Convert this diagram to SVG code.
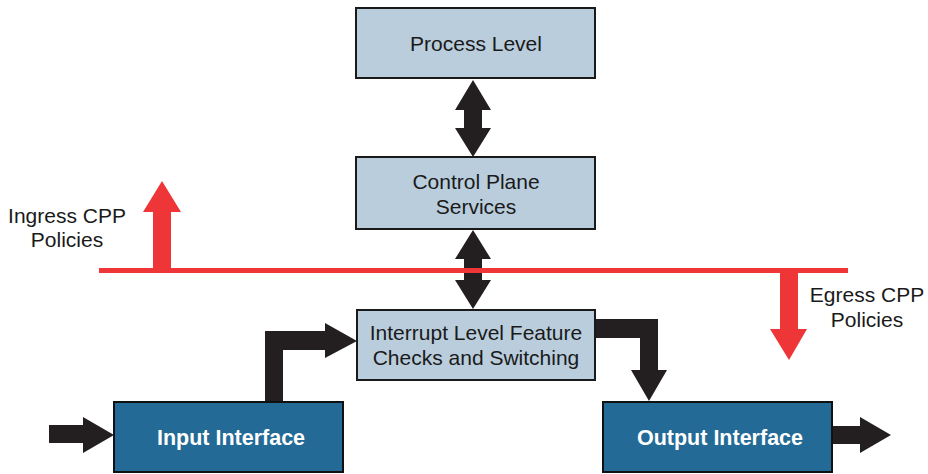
<svg xmlns="http://www.w3.org/2000/svg" width="928" height="474" viewBox="0 0 928 474">
  <style>
    .lbl { font-family: "Liberation Sans", Arial, Helvetica, sans-serif; font-size: 21px; fill: #1a1a1a; text-anchor: middle; }
    .box-light { fill: #b9cddc; stroke: #1a1a1a; stroke-width: 2; }
    .box-dark { fill: #236b96; stroke: #111111; stroke-width: 2; }
    .lbl-dark { font-family: "Liberation Sans", Arial, Helvetica, sans-serif; font-size: 21.5px; font-weight: bold; fill: #ffffff; text-anchor: middle; }
    .flow { fill: #231f20; }
    .cpp { fill: #ee3538; }
  </style>

  <rect width="928" height="474" fill="#ffffff"/>

  <!-- Black flow arrows between the processing stages -->
  <g id="connectors">
    <!-- Process Level <-> Control Plane Services -->
    <polygon class="flow" points="473,80 491,110 482,110 482,128 491,128 473,157 455,128 464,128 464,110 455,110"/>
    <!-- Control Plane Services <-> Interrupt Level -->
    <polygon class="flow" points="473,230 491,259 482,259 482,280 491,280 473,309 455,280 464,280 464,259 455,259"/>
    <!-- Incoming traffic into Input Interface -->
    <polygon class="flow" points="49,425 83,425 83,417 114,435 83,453 83,443 49,443"/>
    <!-- Input Interface -> Interrupt Level -->
    <polygon class="flow" points="265,402 265,331 325,331 325,323 357,341 325,358 325,350 283,350 283,402"/>
    <!-- Interrupt Level -> Output Interface -->
    <polygon class="flow" points="595,319 658,319 658,370 667,370 649,401 631,370 640,370 640,338 595,338"/>
    <!-- Output Interface -> outgoing traffic -->
    <polygon class="flow" points="832,426 860,426 860,417 891,435 860,453 860,444 832,444"/>
  </g>

  <!-- Control plane policing boundary -->
  <g id="cpp-boundary">
    <rect class="cpp" x="99" y="268" width="749" height="5"/>
    <polygon class="cpp" points="153,270 153,212 143,212 162,181 181,212 171,212 171,270"/>
    <polygon class="cpp" points="780,270 798,270 798,329 807,329 789,360 770,329 780,329"/>
    <text class="lbl" x="67" y="223">Ingress CPP</text>
    <text class="lbl" x="67" y="247">Policies</text>
    <text class="lbl" x="867" y="302">Egress CPP</text>
    <text class="lbl" x="867" y="327">Policies</text>
  </g>

  <g id="process-level">
    <rect class="box-light" x="356" y="8" width="239" height="70"/>
    <text class="lbl" x="476" y="51">Process Level</text>
  </g>

  <g id="control-plane-services">
    <rect class="box-light" x="356" y="157" width="239" height="72"/>
    <text class="lbl" x="476" y="189">Control Plane</text>
    <text class="lbl" x="476" y="214">Services</text>
  </g>

  <g id="interrupt-level">
    <rect class="box-light" x="357" y="310" width="238" height="70"/>
    <text class="lbl" x="476" y="340">Interrupt Level Feature</text>
    <text class="lbl" x="476" y="365">Checks and Switching</text>
  </g>

  <g id="input-interface">
    <rect class="box-dark" x="114" y="402" width="229" height="70"/>
    <text class="lbl-dark" x="231" y="445">Input Interface</text>
  </g>

  <g id="output-interface">
    <rect class="box-dark" x="603" y="402" width="229" height="70"/>
    <text class="lbl-dark" x="720" y="445">Output Interface</text>
  </g>
</svg>
